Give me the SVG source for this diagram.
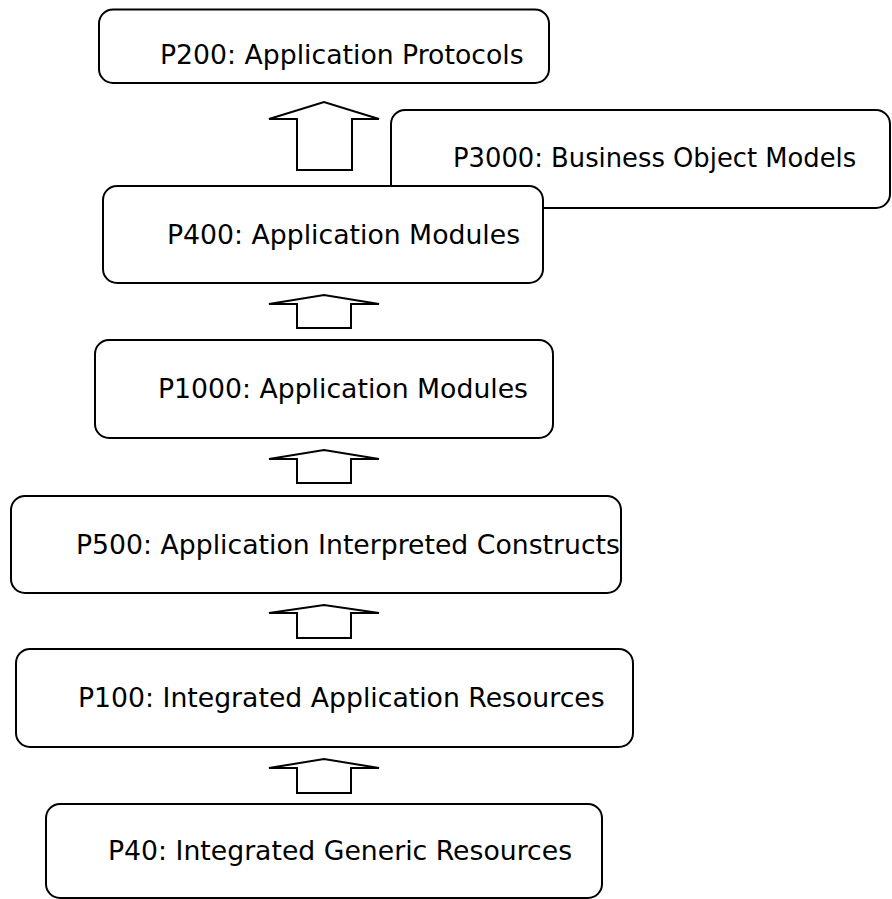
<svg xmlns="http://www.w3.org/2000/svg" width="892" height="899" viewBox="0 0 892 899">
<style>
.box{fill:#fff;stroke:#000;stroke-width:2}
.lbl{font-family:"DejaVu Sans","Verdana",sans-serif;font-size:26.7px;fill:#000}
.arr{fill:#fff;stroke:#000;stroke-width:2;stroke-linejoin:miter}
</style>
<rect width="892" height="899" fill="#fff"/>
<g id="P200">
<rect class="box" x="99" y="9.5" width="450" height="73.5" rx="14"/>
<text class="lbl" x="160" y="64">P200: Application Protocols</text>
</g>
<g id="P3000">
<rect class="box" x="391" y="110" width="499" height="98" rx="14"/>
<text class="lbl" x="453" y="167" style="font-size:25.8px">P3000: Business Object Models</text>
</g>
<g id="P400">
<rect class="box" x="103" y="186" width="440" height="97" rx="14"/>
<text class="lbl" x="167" y="244">P400: Application Modules</text>
</g>
<g id="P1000">
<rect class="box" x="95" y="340" width="458" height="98" rx="14"/>
<text class="lbl" x="158" y="398">P1000: Application Modules</text>
</g>
<g id="P500">
<rect class="box" x="11" y="496" width="610" height="97" rx="14"/>
<text class="lbl" x="76" y="554">P500: Application Interpreted Constructs</text>
</g>
<g id="P100">
<rect class="box" x="16" y="649" width="617" height="98" rx="14"/>
<text class="lbl" x="78" y="707">P100: Integrated Application Resources</text>
</g>
<g id="P40">
<rect class="box" x="46" y="804" width="556" height="94" rx="14"/>
<text class="lbl" x="108" y="860">P40: Integrated Generic Resources</text>
</g>
<g id="connectors">
<polygon class="arr" points="269,119 324,102 379,119 352,119 352,170 297,170 297,119"/>
<polygon class="arr" points="269,304 324,295 379,304 351,304 351,328 297,328 297,304"/>
<polygon class="arr" points="269,459 324,450 379,459 351,459 351,483 297,483 297,459"/>
<polygon class="arr" points="269,613 324,605 379,613 351,613 351,638 297,638 297,613"/>
<polygon class="arr" points="269,768 324,759 379,768 351,768 351,793 297,793 297,768"/>
</g>
</svg>
